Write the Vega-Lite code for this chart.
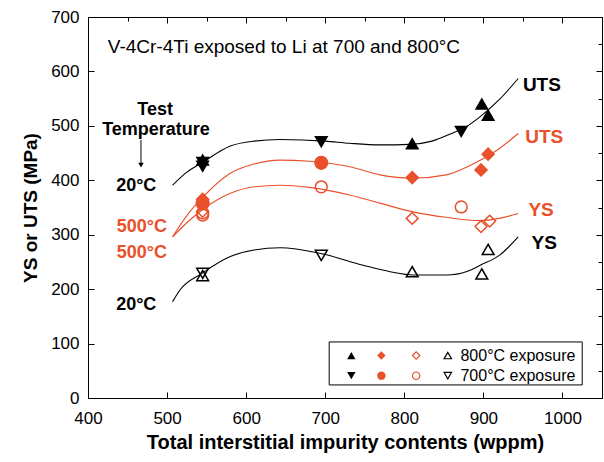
{
  "$schema": "https://vega.github.io/schema/vega-lite/v6.json",
  "width": 514,
  "height": 381,
  "autosize": "none",
  "padding": {"left": 88, "top": 17, "right": 2, "bottom": 64},
  "background": "white",
  "config": {
    "view": {"stroke": "black", "strokeWidth": 1},
    "font": "Liberation Sans",
    "axis": {"grid": false, "domainColor": "black", "tickColor": "black", "labelColor": "black", "titleColor": "black"}
  },
  "datasets": {
    "curves": [
      {"x": 507, "y": 391, "curve": "UTS 20", "temp": "20 °C"},
      {"x": 525, "y": 415, "curve": "UTS 20", "temp": "20 °C"},
      {"x": 545, "y": 433, "curve": "UTS 20", "temp": "20 °C"},
      {"x": 580, "y": 463, "curve": "UTS 20", "temp": "20 °C"},
      {"x": 610, "y": 472, "curve": "UTS 20", "temp": "20 °C"},
      {"x": 643, "y": 475, "curve": "UTS 20", "temp": "20 °C"},
      {"x": 700, "y": 472, "curve": "UTS 20", "temp": "20 °C"},
      {"x": 731, "y": 468, "curve": "UTS 20", "temp": "20 °C"},
      {"x": 769, "y": 465, "curve": "UTS 20", "temp": "20 °C"},
      {"x": 807, "y": 466, "curve": "UTS 20", "temp": "20 °C"},
      {"x": 835, "y": 472, "curve": "UTS 20", "temp": "20 °C"},
      {"x": 858, "y": 485, "curve": "UTS 20", "temp": "20 °C"},
      {"x": 880, "y": 500, "curve": "UTS 20", "temp": "20 °C"},
      {"x": 896, "y": 517, "curve": "UTS 20", "temp": "20 °C"},
      {"x": 920, "y": 548, "curve": "UTS 20", "temp": "20 °C"},
      {"x": 944, "y": 587, "curve": "UTS 20", "temp": "20 °C"},
      {"x": 507, "y": 296, "curve": "UTS 500", "temp": "500 °C"},
      {"x": 525, "y": 335, "curve": "UTS 500", "temp": "500 °C"},
      {"x": 544, "y": 367, "curve": "UTS 500", "temp": "500 °C"},
      {"x": 580, "y": 413, "curve": "UTS 500", "temp": "500 °C"},
      {"x": 610, "y": 430, "curve": "UTS 500", "temp": "500 °C"},
      {"x": 643, "y": 437, "curve": "UTS 500", "temp": "500 °C"},
      {"x": 680, "y": 435, "curve": "UTS 500", "temp": "500 °C"},
      {"x": 731, "y": 425, "curve": "UTS 500", "temp": "500 °C"},
      {"x": 769, "y": 410, "curve": "UTS 500", "temp": "500 °C"},
      {"x": 811, "y": 404, "curve": "UTS 500", "temp": "500 °C"},
      {"x": 853, "y": 410, "curve": "UTS 500", "temp": "500 °C"},
      {"x": 880, "y": 425, "curve": "UTS 500", "temp": "500 °C"},
      {"x": 896, "y": 437, "curve": "UTS 500", "temp": "500 °C"},
      {"x": 920, "y": 458, "curve": "UTS 500", "temp": "500 °C"},
      {"x": 944, "y": 486, "curve": "UTS 500", "temp": "500 °C"},
      {"x": 507, "y": 296, "curve": "YS 500", "temp": "500 °C"},
      {"x": 525, "y": 322, "curve": "YS 500", "temp": "500 °C"},
      {"x": 544, "y": 345, "curve": "YS 500", "temp": "500 °C"},
      {"x": 580, "y": 376, "curve": "YS 500", "temp": "500 °C"},
      {"x": 610, "y": 388, "curve": "YS 500", "temp": "500 °C"},
      {"x": 643, "y": 391, "curve": "YS 500", "temp": "500 °C"},
      {"x": 680, "y": 387, "curve": "YS 500", "temp": "500 °C"},
      {"x": 731, "y": 373, "curve": "YS 500", "temp": "500 °C"},
      {"x": 769, "y": 358, "curve": "YS 500", "temp": "500 °C"},
      {"x": 811, "y": 342, "curve": "YS 500", "temp": "500 °C"},
      {"x": 853, "y": 332, "curve": "YS 500", "temp": "500 °C"},
      {"x": 896, "y": 326, "curve": "YS 500", "temp": "500 °C"},
      {"x": 920, "y": 330, "curve": "YS 500", "temp": "500 °C"},
      {"x": 944, "y": 339, "curve": "YS 500", "temp": "500 °C"},
      {"x": 507, "y": 177, "curve": "YS 20", "temp": "20 °C"},
      {"x": 516, "y": 198, "curve": "YS 20", "temp": "20 °C"},
      {"x": 544, "y": 229, "curve": "YS 20", "temp": "20 °C"},
      {"x": 580, "y": 260, "curve": "YS 20", "temp": "20 °C"},
      {"x": 610, "y": 272, "curve": "YS 20", "temp": "20 °C"},
      {"x": 643, "y": 276, "curve": "YS 20", "temp": "20 °C"},
      {"x": 693, "y": 266, "curve": "YS 20", "temp": "20 °C"},
      {"x": 748, "y": 244, "curve": "YS 20", "temp": "20 °C"},
      {"x": 782, "y": 232, "curve": "YS 20", "temp": "20 °C"},
      {"x": 811, "y": 226, "curve": "YS 20", "temp": "20 °C"},
      {"x": 853, "y": 226, "curve": "YS 20", "temp": "20 °C"},
      {"x": 880, "y": 233, "curve": "YS 20", "temp": "20 °C"},
      {"x": 896, "y": 244, "curve": "YS 20", "temp": "20 °C"},
      {"x": 921, "y": 263, "curve": "YS 20", "temp": "20 °C"},
      {"x": 944, "y": 296, "curve": "YS 20", "temp": "20 °C"}
    ],
    "points": [
      {"x": 545, "y": 438, "prop": "UTS", "temp": "20 °C", "series": "20 °C, 800 °C exposure"},
      {"x": 545, "y": 432, "prop": "UTS", "temp": "20 °C", "series": "20 °C, 700 °C exposure"},
      {"x": 545, "y": 425, "prop": "UTS", "temp": "20 °C", "series": "20 °C, 700 °C exposure"},
      {"x": 695, "y": 470, "prop": "UTS", "temp": "20 °C", "series": "20 °C, 700 °C exposure"},
      {"x": 810, "y": 468, "prop": "UTS", "temp": "20 °C", "series": "20 °C, 800 °C exposure"},
      {"x": 872, "y": 489, "prop": "UTS", "temp": "20 °C", "series": "20 °C, 700 °C exposure"},
      {"x": 898, "y": 541, "prop": "UTS", "temp": "20 °C", "series": "20 °C, 800 °C exposure"},
      {"x": 906, "y": 520, "prop": "UTS", "temp": "20 °C", "series": "20 °C, 800 °C exposure"},
      {"x": 545, "y": 365, "prop": "UTS", "temp": "500 °C", "series": "500 °C, 800 °C exposure"},
      {"x": 545, "y": 358, "prop": "UTS", "temp": "500 °C", "series": "500 °C, 700 °C exposure"},
      {"x": 695, "y": 432, "prop": "UTS", "temp": "500 °C", "series": "500 °C, 700 °C exposure"},
      {"x": 810, "y": 405, "prop": "UTS", "temp": "500 °C", "series": "500 °C, 800 °C exposure"},
      {"x": 897, "y": 419, "prop": "UTS", "temp": "500 °C", "series": "500 °C, 800 °C exposure"},
      {"x": 906, "y": 448, "prop": "UTS", "temp": "500 °C", "series": "500 °C, 800 °C exposure"},
      {"x": 545, "y": 343, "prop": "YS", "temp": "500 °C", "series": "500 °C, 800 °C exposure"},
      {"x": 545, "y": 340, "prop": "YS", "temp": "500 °C", "series": "500 °C, 700 °C exposure"},
      {"x": 545, "y": 336, "prop": "YS", "temp": "500 °C", "series": "500 °C, 700 °C exposure"},
      {"x": 695, "y": 388, "prop": "YS", "temp": "500 °C", "series": "500 °C, 700 °C exposure"},
      {"x": 810, "y": 330, "prop": "YS", "temp": "500 °C", "series": "500 °C, 800 °C exposure"},
      {"x": 872, "y": 351, "prop": "YS", "temp": "500 °C", "series": "500 °C, 700 °C exposure"},
      {"x": 897, "y": 315, "prop": "YS", "temp": "500 °C", "series": "500 °C, 800 °C exposure"},
      {"x": 908, "y": 325, "prop": "YS", "temp": "500 °C", "series": "500 °C, 800 °C exposure"},
      {"x": 545, "y": 225, "prop": "YS", "temp": "20 °C", "series": "20 °C, 800 °C exposure"},
      {"x": 545, "y": 229, "prop": "YS", "temp": "20 °C", "series": "20 °C, 700 °C exposure"},
      {"x": 695, "y": 262, "prop": "YS", "temp": "20 °C", "series": "20 °C, 700 °C exposure"},
      {"x": 810, "y": 232, "prop": "YS", "temp": "20 °C", "series": "20 °C, 800 °C exposure"},
      {"x": 898, "y": 228, "prop": "YS", "temp": "20 °C", "series": "20 °C, 800 °C exposure"},
      {"x": 906, "y": 273, "prop": "YS", "temp": "20 °C", "series": "20 °C, 800 °C exposure"}
    ],
    "legendpts": [
      {"x": 733, "y": 78, "prop": "UTS", "temp": "20 °C", "series": "20 °C, 800 °C exposure"},
      {"x": 771, "y": 78, "prop": "UTS", "temp": "500 °C", "series": "500 °C, 800 °C exposure"},
      {"x": 815, "y": 78, "prop": "YS", "temp": "500 °C", "series": "500 °C, 800 °C exposure"},
      {"x": 855, "y": 78, "prop": "YS", "temp": "20 °C", "series": "20 °C, 800 °C exposure"},
      {"x": 733, "y": 41, "prop": "UTS", "temp": "20 °C", "series": "20 °C, 700 °C exposure"},
      {"x": 771, "y": 41, "prop": "UTS", "temp": "500 °C", "series": "500 °C, 700 °C exposure"},
      {"x": 815, "y": 41, "prop": "YS", "temp": "500 °C", "series": "500 °C, 700 °C exposure"},
      {"x": 855, "y": 41, "prop": "YS", "temp": "20 °C", "series": "20 °C, 700 °C exposure"}
    ],
    "legendtext": [
      {"x": 871, "y": 78, "text": "800°C exposure"},
      {"x": 871, "y": 41, "text": "700°C exposure"}
    ],
    "box": [{"x": 705, "x2": 1025, "y": 24, "y2": 103}],
    "labels": [
      {"x": 461, "y": 389, "text": "20°C", "temp": "20 °C", "kind": "temp"},
      {"x": 468, "y": 315, "text": "500°C", "temp": "500 °C", "kind": "temp"},
      {"x": 468, "y": 266, "text": "500°C", "temp": "500 °C", "kind": "temp"},
      {"x": 461, "y": 171, "text": "20°C", "temp": "20 °C", "kind": "temp"},
      {"x": 974, "y": 575, "text": "UTS", "temp": "20 °C", "kind": "prop"},
      {"x": 977, "y": 480, "text": "UTS", "temp": "500 °C", "kind": "prop"},
      {"x": 973, "y": 345, "text": "YS", "temp": "500 °C", "kind": "prop"},
      {"x": 977, "y": 284, "text": "YS", "temp": "20 °C", "kind": "prop"}
    ],
    "testlabel": [
      {"x": 485, "y": 530, "text": "Test"},
      {"x": 486, "y": 492, "text": "Temperature"}
    ],
    "note": [{"x": 425, "y": 645, "text": "V-4Cr-4Ti exposed to Li at 700 and 800°C"}],
    "arrow": [{"x": 467, "y": 474, "y2": 428}],
    "arrowhead": [{"x": 467, "y": 428}]
  },
  "layer": [
    {
      "layer": [
        {
          "data": {"name": "curves"},
          "mark": {"type": "line", "interpolate": "monotone", "strokeWidth": 1.1},
          "encoding": {
            "x": {"field": "x", "type": "quantitative",
              "scale": {"domain": [400, 1050], "nice": false, "zero": false},
              "axis": {
                "title": "Total interstitial impurity contents (wppm)",
                "values": [400, 450, 500, 550, 600, 650, 700, 750, 800, 850, 900, 950, 1000, 1050],
                "format": "d",
                "labelExpr": "datum.value % 100 === 0 && datum.value <= 1000 ? datum.label : ''",
                "tickSize": {"condition": {"test": "datum.value % 100 === 0", "value": -6}, "value": -4},
                "labelPadding": 18,
                "labelFlush": false,
                "labelOverlap": false,
                "labelFontSize": 17,
                "titleFontSize": 20,
                "titleFontWeight": "bold",
                "titlePadding": 6
              }
            },
            "y": {"field": "y", "type": "quantitative",
              "scale": {"domain": [0, 700], "nice": false, "zero": false},
              "axis": {
                "title": "YS or UTS (MPa)",
                "values": [0, 50, 100, 150, 200, 250, 300, 350, 400, 450, 500, 550, 600, 650, 700],
                "labelExpr": "datum.value % 100 === 0 ? datum.label : ''",
                "tickSize": {"condition": {"test": "datum.value % 100 === 0", "value": -6}, "value": -4},
                "labelPadding": 15,
                "labelFlush": false,
                "labelOverlap": false,
                "labelFontSize": 17,
                "titleFontSize": 19,
                "titleFontWeight": "bold",
                "titlePadding": 10
              }
            },
            "detail": {"field": "curve"},
            "color": {"field": "temp", "type": "nominal",
              "scale": {"domain": ["20 °C", "500 °C"], "range": ["#000000", "#E9502B"]},
              "legend": null}
          }
        },
        {
          "data": {"name": "points"},
          "transform": [{"filter": "datum.prop === 'UTS'"}],
          "mark": {"type": "point", "filled": true, "opacity": 1, "size": 200},
          "encoding": {
            "x": {"field": "x", "type": "quantitative"},
            "y": {"field": "y", "type": "quantitative"},
            "color": {"field": "temp", "type": "nominal", "legend": null},
            "shape": {"field": "series", "type": "nominal",
              "scale": {"domain": ["20 °C, 800 °C exposure", "20 °C, 700 °C exposure", "500 °C, 800 °C exposure", "500 °C, 700 °C exposure"],
                "range": ["triangle-up", "triangle-down", "diamond", "circle"]},
              "legend": null}
          }
        },
        {
          "data": {"name": "points"},
          "transform": [{"filter": "datum.prop === 'YS'"}],
          "mark": {"type": "point", "filled": false, "opacity": 1, "size": 140, "strokeWidth": 1.5},
          "encoding": {
            "x": {"field": "x", "type": "quantitative"},
            "y": {"field": "y", "type": "quantitative"},
            "color": {"field": "temp", "type": "nominal", "legend": null},
            "shape": {"field": "series", "type": "nominal", "legend": null}
          }
        },
        {
          "data": {"name": "box"},
          "mark": {"type": "rect", "fill": "white", "stroke": "black", "strokeWidth": 1},
          "encoding": {
            "x": {"field": "x", "type": "quantitative"},
            "x2": {"field": "x2"},
            "y": {"field": "y", "type": "quantitative"},
            "y2": {"field": "y2"}
          }
        },
        {
          "data": {"name": "legendpts"},
          "transform": [{"filter": "datum.prop === 'UTS'"}],
          "mark": {"type": "point", "filled": true, "opacity": 1, "size": 70},
          "encoding": {
            "x": {"field": "x", "type": "quantitative"},
            "y": {"field": "y", "type": "quantitative"},
            "color": {"field": "temp", "type": "nominal", "legend": null},
            "shape": {"field": "series", "type": "nominal", "legend": null}
          }
        },
        {
          "data": {"name": "legendpts"},
          "transform": [{"filter": "datum.prop === 'YS'"}],
          "mark": {"type": "point", "filled": false, "opacity": 1, "size": 55, "strokeWidth": 1.2},
          "encoding": {
            "x": {"field": "x", "type": "quantitative"},
            "y": {"field": "y", "type": "quantitative"},
            "color": {"field": "temp", "type": "nominal", "legend": null},
            "shape": {"field": "series", "type": "nominal", "legend": null}
          }
        },
        {
          "data": {"name": "legendtext"},
          "mark": {"type": "text", "align": "left", "baseline": "middle", "fontSize": 16, "color": "black"},
          "encoding": {
            "x": {"field": "x", "type": "quantitative"},
            "y": {"field": "y", "type": "quantitative"},
            "text": {"field": "text"}
          }
        },
        {
          "data": {"name": "labels"},
          "transform": [{"filter": "datum.kind === 'temp'"}],
          "mark": {"type": "text", "align": "center", "baseline": "middle", "fontSize": 18, "fontWeight": "bold"},
          "encoding": {
            "x": {"field": "x", "type": "quantitative"},
            "y": {"field": "y", "type": "quantitative"},
            "text": {"field": "text"},
            "color": {"field": "temp", "type": "nominal", "legend": null}
          }
        },
        {
          "data": {"name": "labels"},
          "transform": [{"filter": "datum.kind === 'prop'"}],
          "mark": {"type": "text", "align": "center", "baseline": "middle", "fontSize": 19, "fontWeight": "bold"},
          "encoding": {
            "x": {"field": "x", "type": "quantitative"},
            "y": {"field": "y", "type": "quantitative"},
            "text": {"field": "text"},
            "color": {"field": "temp", "type": "nominal", "legend": null}
          }
        },
        {
          "data": {"name": "testlabel"},
          "mark": {"type": "text", "align": "center", "baseline": "middle", "fontSize": 18, "fontWeight": "bold", "color": "black"},
          "encoding": {
            "x": {"field": "x", "type": "quantitative"},
            "y": {"field": "y", "type": "quantitative"},
            "text": {"field": "text"}
          }
        },
        {
          "data": {"name": "note"},
          "mark": {"type": "text", "align": "left", "baseline": "middle", "fontSize": 19, "color": "black"},
          "encoding": {
            "x": {"field": "x", "type": "quantitative"},
            "y": {"field": "y", "type": "quantitative"},
            "text": {"field": "text"}
          }
        },
        {
          "data": {"name": "arrow"},
          "mark": {"type": "rule", "color": "black", "strokeWidth": 1},
          "encoding": {
            "x": {"field": "x", "type": "quantitative"},
            "y": {"field": "y", "type": "quantitative"},
            "y2": {"field": "y2"}
          }
        },
        {
          "data": {"name": "arrowhead"},
          "mark": {"type": "point", "shape": "triangle-down", "filled": true, "color": "black", "opacity": 1, "size": 30},
          "encoding": {
            "x": {"field": "x", "type": "quantitative"},
            "y": {"field": "y", "type": "quantitative"}
          }
        }
      ]
    },
    {
      "data": {"name": "arrowhead"},
      "mark": {"type": "point", "opacity": 0},
      "encoding": {
        "x": {"field": "x", "type": "quantitative",
          "axis": {"orient": "top", "title": null, "labels": false, "domain": false,
            "values": [400, 450, 500, 550, 600, 650, 700, 750, 800, 850, 900, 950, 1000, 1050],
            "tickSize": {"condition": {"test": "datum.value % 100 === 0", "value": -6}, "value": -4}}},
        "y": {"field": "y", "type": "quantitative",
          "axis": {"orient": "right", "title": null, "labels": false, "domain": false,
            "values": [0, 50, 100, 150, 200, 250, 300, 350, 400, 450, 500, 550, 600, 650, 700],
            "tickSize": {"condition": {"test": "datum.value % 100 === 0", "value": -6}, "value": -4}}}
      }
    }
  ],
  "resolve": {"axis": {"x": "independent", "y": "independent"}}
}
